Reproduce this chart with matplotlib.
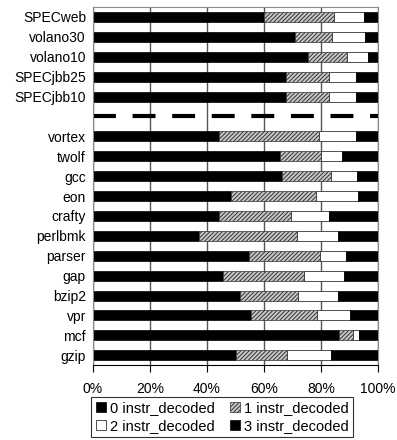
import matplotlib.pyplot as plt
import numpy as np

plt.rcParams['font.family'] = ['Liberation Sans', 'DejaVu Sans']
plt.rcParams['hatch.linewidth'] = 0.7

benchmarks = ["SPECweb", "volano30", "volano10", "SPECjbb25", "SPECjbb10",
              "vortex", "twolf", "gcc", "eon", "crafty", "perlbmk", "parser",
              "gap", "bzip2", "vpr", "mcf", "gzip"]

# cumulative boundaries (percent)
decoded0 = [59.9, 71.0, 75.6, 67.6, 67.8,
            44.4, 65.5, 66.4, 48.5, 44.4, 37.2, 54.6, 45.6, 51.5, 55.6, 86.3, 50.1]
upto1 = [84.6, 84.0, 89.1, 82.8, 82.8,
         79.3, 79.9, 83.6, 78.4, 69.6, 71.6, 79.5, 74.0, 71.8, 78.6, 91.2, 68.0]
upto2 = [95.1, 95.3, 96.5, 92.4, 92.4,
         92.2, 87.3, 92.6, 93.0, 82.8, 86.1, 88.7, 88.0, 86.1, 90.1, 93.2, 83.4]

d0 = np.array(decoded0)
d1 = np.array(upto1) - d0
d2 = np.array(upto2) - np.array(upto1)
d3 = 100 - np.array(upto2)

# one empty slot after SPECjbb10 for the separator line
pos = np.array([0, 1, 2, 3, 4] + list(range(6, 18)))

fig = plt.figure(figsize=(3.97, 4.40), dpi=100)
ax = fig.add_axes([0.234, 0.170, 0.718, 0.814])

h = 0.5
b0 = ax.barh(pos, d0, height=h, color="black", edgecolor="black", linewidth=0.5,
             label="0 instr_decoded")
b1 = ax.barh(pos, d1, left=d0, height=h, color="#c8c8c8", edgecolor="#333333",
             hatch="////////", linewidth=0.5, label="1 instr_decoded")
b2 = ax.barh(pos, d2, left=d0 + d1, height=h, color="white", edgecolor="#333333",
             linewidth=0.6, label="2 instr_decoded")
b3 = ax.barh(pos, d3, left=d0 + d1 + d2, height=h, color="black", edgecolor="black",
             linewidth=0.5, label="3 instr_decoded")

ax.axhline(5, color="black", linestyle=(0, (5.5, 4)), linewidth=3)

ax.set_xlim(0, 100)
ax.set_ylim(17.5, -0.5)
ax.set_xticks(np.arange(0, 101, 20))
ax.set_xticklabels([f"{v}%" for v in range(0, 101, 20)], fontsize=10)
ax.set_yticks(pos)
ax.set_yticklabels(benchmarks, fontsize=10)
ax.tick_params(axis="y", length=0, pad=5)
ax.tick_params(axis="x", length=5, direction="out", pad=7, color="black")
ax.xaxis.grid(True, color="#555555", linewidth=1)
ax.set_axisbelow(True)
for side in ["top", "right", "left"]:
    ax.spines[side].set_color("#888888")
ax.spines["bottom"].set_color("black")

handles = [b0, b2, b1, b3]
labels = [hd.get_label() for hd in handles]
leg = fig.legend(handles, labels, ncol=2, loc="upper center",
                 bbox_to_anchor=(0.56, 0.098), fontsize=10.5, frameon=True,
                 fancybox=False, edgecolor="black", handlelength=0.7,
                 handleheight=0.7, handletextpad=0.3, columnspacing=1.0,
                 borderpad=0.3, labelspacing=0.25, borderaxespad=0)
leg.get_frame().set_linewidth(0.8)

fig.savefig("out.png", dpi=100)
